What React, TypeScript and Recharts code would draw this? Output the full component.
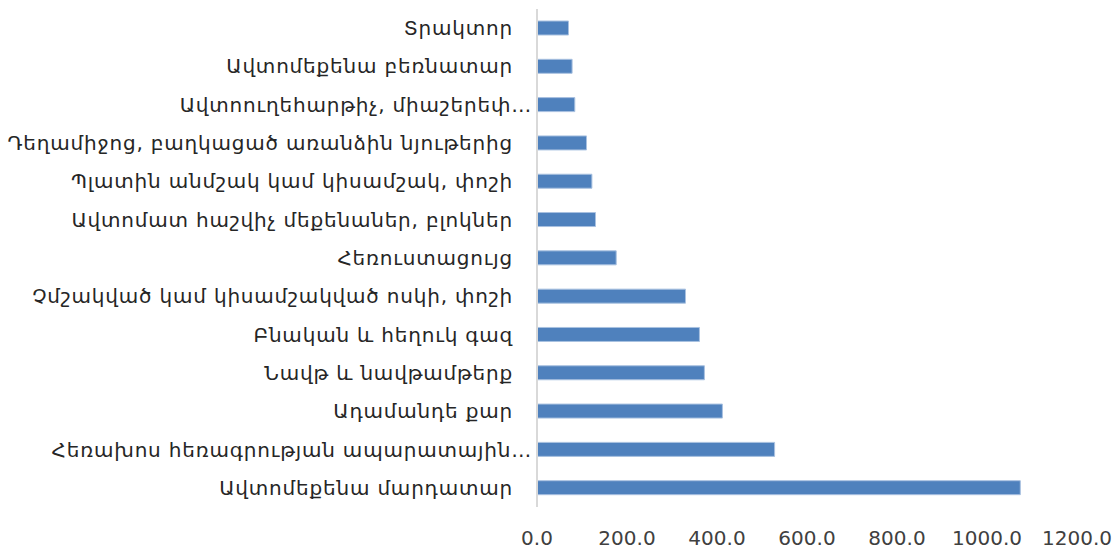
import React from "react";
import { BarChart, Bar, XAxis, YAxis } from "recharts";

const categories: string[] = [
  "Տրակտոր",
  "Ավտոմեքենա բեռնատար",
  "Ավտոուղեհարթիչ, միաշերեփ…",
  "Դեղամիջոց, բաղկացած առանձին նյութերից",
  "Պլատին անմշակ կամ կիսամշակ, փոշի",
  "Ավտոմատ հաշվիչ մեքենաներ, բլոկներ",
  "Հեռուստացույց",
  "Չմշակված կամ կիսամշակված ոսկի, փոշի",
  "Բնական և հեղուկ գազ",
  "Նավթ և նավթամթերք",
  "Ադամանդե քար",
  "Հեռախոս հեռագրության ապարատային…",
  "Ավտոմեքենա մարդատար",
];

const values: number[] = [70, 78, 84, 110, 122, 130, 176, 330, 361, 372, 412, 528, 1074];

const xTicks: number[] = [0, 200, 400, 600, 800, 1000, 1200];

const data = categories.map((name, i) => ({ name, value: values[i] }));

const FONT = "'DejaVu Sans', sans-serif";

const CategoryTick = (props: any) => {
  const { x, y, payload } = props;
  const label: string = payload.value;
  const truncated = label.endsWith("…");
  return (
    <text
      x={truncated ? x + 19 : x}
      y={y}
      dy="0.35em"
      textAnchor="end"
      fontFamily={FONT}
      fontSize={20}
      letterSpacing={0.8}
      fill="#262626"
    >
      {label}
    </text>
  );
};

export default function App() {
  return (
    <div style={{ width: 1114, height: 552, background: "#fff" }}>
      <style>{`body{margin:0}`}</style>
      <BarChart
        width={1114}
        height={552}
        data={data}
        layout="vertical"
        margin={{ top: 9, right: 37, bottom: 0, left: 0 }}
        barCategoryGap="63%"
      >
        <XAxis
          type="number"
          domain={[0, 1200]}
          ticks={xTicks}
          tickFormatter={(v: number) => v.toFixed(1)}
          axisLine={false}
          tickLine={false}
          tickSize={0}
          tickMargin={24}
          height={45}
          interval={0}
          tick={{ fontFamily: FONT, fontSize: 20, fill: "#404040" }}
        />
        <YAxis
          type="category"
          dataKey="name"
          width={537}
          axisLine={{ stroke: "#d9d9d9", strokeWidth: 2 }}
          tickLine={false}
          tickSize={0}
          tickMargin={24}
          interval={0}
          tick={<CategoryTick />}
        />
        <Bar
          dataKey="value"
          fill="#4f81bd"
          stroke="#a9c1e0"
          strokeWidth={1}
          barSize={14}
          isAnimationActive={false}
        />
      </BarChart>
    </div>
  );
}
